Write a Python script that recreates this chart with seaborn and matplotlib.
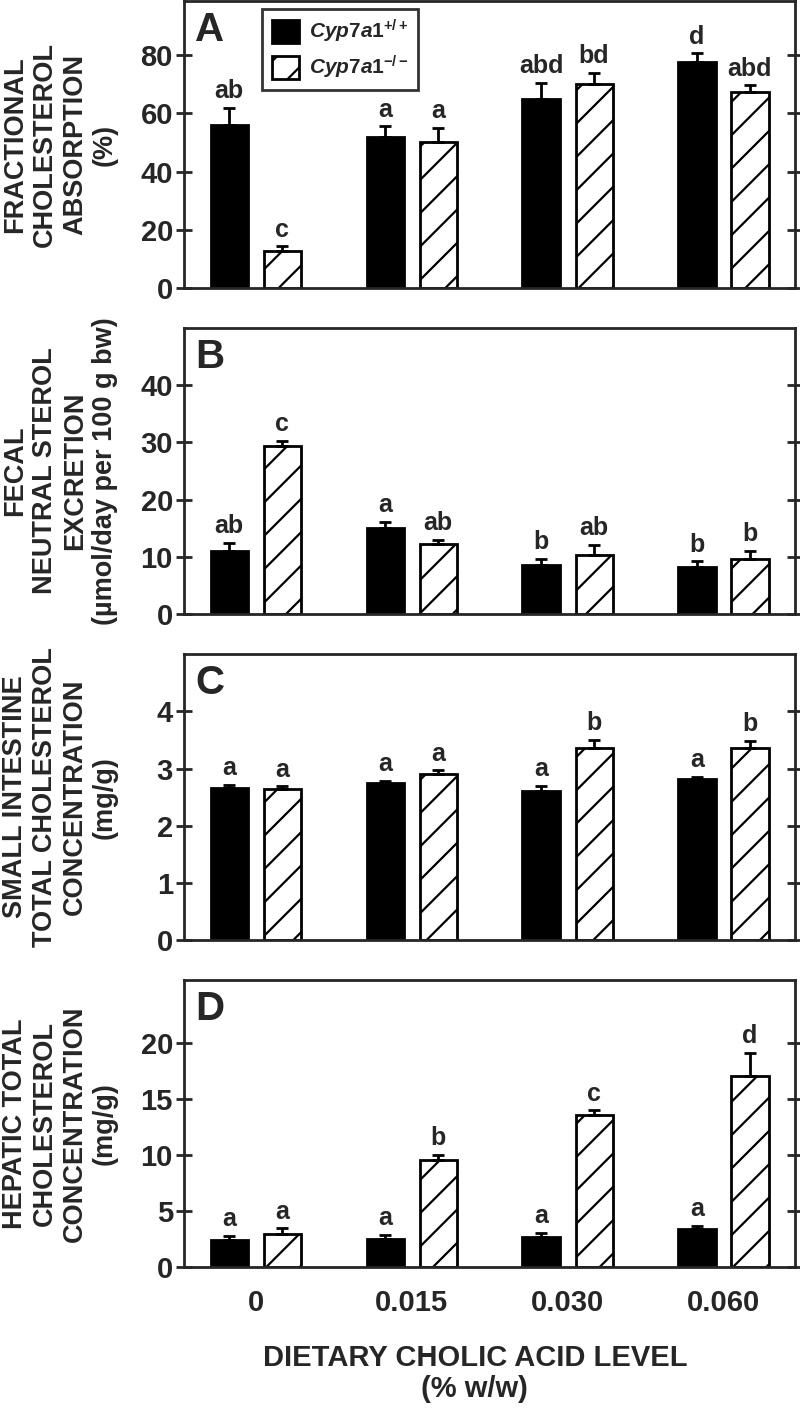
import numpy as np
import pandas as pd
import matplotlib
matplotlib.use("Agg")
import matplotlib.pyplot as plt
import seaborn as sns
from matplotlib.patches import Patch

LEVELS = ["0", "0.015", "0.030", "0.060"]
GENOTYPES = ["wt", "ko"]

# A: fractional cholesterol absorption (%)
abs_wt = [56.0, 52.0, 64.8, 77.8]
abs_wt_se = [6.0, 3.5, 5.6, 2.8]
abs_ko = [12.6, 50.3, 70.2, 67.4]
abs_ko_se = [1.7, 4.8, 3.7, 2.2]
abs_wt_sig = ["ab", "a", "abd", "d"]
abs_ko_sig = ["c", "a", "bd", "abd"]

# B: fecal neutral sterol excretion (umol/day per 100 g bw)
fns_wt = [11.1, 15.1, 8.6, 8.3]
fns_wt_se = [1.4, 1.0, 1.1, 0.9]
fns_ko = [29.3, 12.3, 10.3, 9.6]
fns_ko_se = [1.0, 0.6, 1.8, 1.5]
fns_wt_sig = ["ab", "a", "b", "b"]
fns_ko_sig = ["c", "ab", "ab", "b"]

# C: small intestine total cholesterol (mg/g)
si_wt = [2.66, 2.74, 2.61, 2.81]
si_wt_se = [0.05, 0.05, 0.09, 0.05]
si_ko = [2.64, 2.91, 3.35, 3.35]
si_ko_se = [0.05, 0.06, 0.15, 0.13]
si_wt_sig = ["a", "a", "a", "a"]
si_ko_sig = ["a", "a", "b", "b"]

# D: hepatic total cholesterol (mg/g)
liv_wt = [2.4, 2.5, 2.66, 3.34]
liv_wt_se = [0.33, 0.33, 0.33, 0.33]
liv_ko = [2.93, 9.52, 13.55, 17.0]
liv_ko_se = [0.5, 0.45, 0.42, 2.1]
liv_wt_sig = ["a", "a", "a", "a"]
liv_ko_sig = ["a", "b", "c", "d"]

sns.set_theme(style="ticks")
plt.rcParams["font.family"] = ["Liberation Sans", "DejaVu Sans"]
plt.rcParams["font.weight"] = "bold"
plt.rcParams["hatch.linewidth"] = 1.6
plt.rcParams["mathtext.fontset"] = "custom"
plt.rcParams["mathtext.rm"] = "Liberation Sans:bold"
plt.rcParams["mathtext.it"] = "Liberation Sans:italic:bold"
plt.rcParams["mathtext.bf"] = "Liberation Sans:bold"


def draw_panel(ax, wt, wt_se, ko, ko_se, wt_sig, ko_sig, ylim, yticks, ylabel, tag):
    df = pd.DataFrame({
        "level": LEVELS * 2,
        "genotype": ["wt"] * len(LEVELS) + ["ko"] * len(LEVELS),
        "value": list(wt) + list(ko),
    })
    sns.barplot(data=df, x="level", y="value", hue="genotype", order=LEVELS,
                hue_order=GENOTYPES, palette={"wt": "black", "ko": "white"},
                width=0.68, gap=0.3, errorbar=None, edgecolor="black",
                linewidth=2, legend=False, ax=ax)
    for bar in ax.containers[1]:
        bar.set_hatch("/")

    for cont, se, sig in zip(ax.containers, [wt_se, ko_se], [wt_sig, ko_sig]):
        xs = [b.get_x() + b.get_width() / 2 for b in cont]
        ys = [b.get_height() for b in cont]
        ax.errorbar(xs, ys, yerr=[np.zeros(len(se)), se], fmt="none",
                    ecolor="black", elinewidth=2, capsize=4, capthick=2, zorder=3)
        for x, y, e, s in zip(xs, ys, se, sig):
            ax.annotate(s, (x, y + e), xytext=(0, 7), textcoords="offset points",
                        ha="center", va="baseline", fontsize=18, fontweight="bold")

    ax.set_xlim(-0.46, 3.46)
    ax.set_ylim(*ylim)
    ax.set_yticks(yticks)
    ax.set_xlabel("")
    ax.set_ylabel(ylabel, fontsize=19.5, fontweight="bold", linespacing=1.2,
                  ha="center", va="center")
    ax.yaxis.set_label_coords(-0.203, 0.5)
    for s in ax.spines.values():
        s.set_visible(True)
        s.set_linewidth(2)
    ax.tick_params(axis="y", direction="inout", length=12, width=2, right=True,
                   labelsize=21, pad=2)
    ax.tick_params(axis="x", length=0)
    ax.text(0.018, 0.965, tag, transform=ax.transAxes, ha="left", va="top",
            fontsize=29, fontweight="bold")


fig, axes = plt.subplots(4, 1, figsize=(8, 14.2))
fig.subplots_adjust(left=0.23, right=0.994, top=0.999, bottom=0.108, hspace=0.139)

draw_panel(axes[0], abs_wt, abs_wt_se, abs_ko, abs_ko_se, abs_wt_sig, abs_ko_sig,
           (0, 98.5), [0, 20, 40, 60, 80],
           "FRACTIONAL\nCHOLESTEROL\nABSORPTION\n(%)", "A")
draw_panel(axes[1], fns_wt, fns_wt_se, fns_ko, fns_ko_se, fns_wt_sig, fns_ko_sig,
           (0, 50), [0, 10, 20, 30, 40],
           "FECAL\nNEUTRAL STEROL\nEXCRETION\n(\u00b5mol/day per 100 g bw)", "B")
draw_panel(axes[2], si_wt, si_wt_se, si_ko, si_ko_se, si_wt_sig, si_ko_sig,
           (0, 5), [0, 1, 2, 3, 4],
           "SMALL INTESTINE\nTOTAL CHOLESTEROL\nCONCENTRATION\n(mg/g)", "C")
draw_panel(axes[3], liv_wt, liv_wt_se, liv_ko, liv_ko_se, liv_wt_sig, liv_ko_sig,
           (0, 25.6), [0, 5, 10, 15, 20],
           "HEPATIC TOTAL\nCHOLESTEROL\nCONCENTRATION\n(mg/g)", "D")

for ax in axes[:3]:
    ax.set_xticklabels([])

axes[3].tick_params(axis="x", pad=16, labelsize=21)
axes[3].set_xlabel("DIETARY CHOLIC ACID LEVEL\n(% w/w)", fontsize=21,
                   fontweight="bold", linespacing=1.15)
axes[3].xaxis.set_label_coords(0.476, -0.27)

handles = [
    Patch(facecolor="black", edgecolor="black", linewidth=2),
    Patch(facecolor="white", edgecolor="black", linewidth=2, hatch="/"),
]
labels = [r"$\mathit{Cyp7a1}^{+/+}$", r"$\mathit{Cyp7a1}^{-/-}$"]
leg = axes[0].legend(handles, labels, loc="upper left", bbox_to_anchor=(0.128, 0.975),
                     fontsize=15, frameon=True, fancybox=False, edgecolor="black",
                     handlelength=1.3, handleheight=1.3, handletextpad=0.5,
                     borderpad=0.45, labelspacing=0.4, borderaxespad=0)
leg.get_frame().set_linewidth(2)

fig.savefig("out.png", dpi=100)
